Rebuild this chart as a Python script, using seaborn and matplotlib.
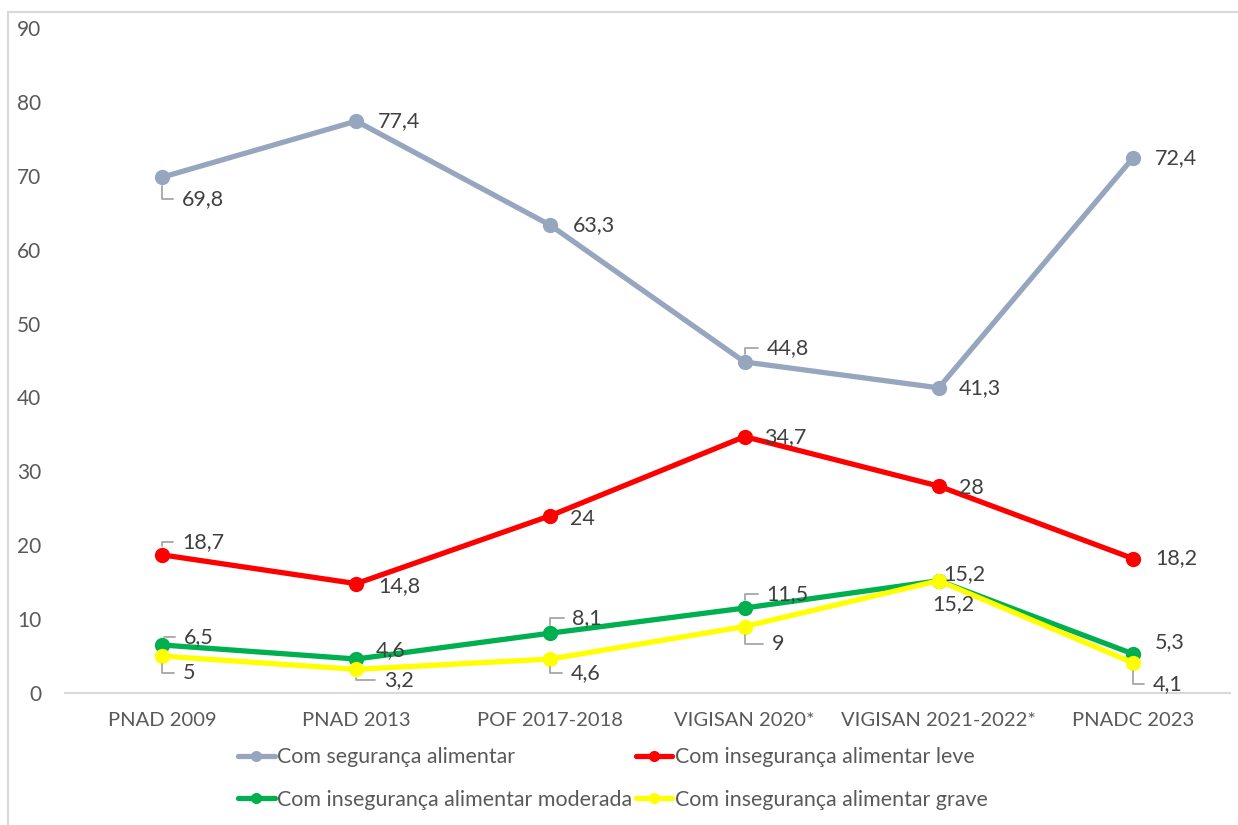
import matplotlib
matplotlib.use("Agg")
import matplotlib.pyplot as plt
from matplotlib.lines import Line2D
from matplotlib.patches import Rectangle
import seaborn as sns
import pandas as pd

# survey / period labels
categories = ['PNAD 2009', 'PNAD 2013', 'POF 2017-2018', 'VIGISAN 2020*',
              'VIGISAN 2021-2022*', 'PNADC 2023']

series_names = ['Com segurança alimentar',
                'Com insegurança alimentar leve',
                'Com insegurança alimentar moderada',
                'Com insegurança alimentar grave']

seguranca = [69.8, 77.4, 63.3, 44.8, 41.3, 72.4]
inseg_leve = [18.7, 14.8, 24.0, 34.7, 28.0, 18.2]
inseg_moderada = [6.5, 4.6, 8.1, 11.5, 15.2, 5.3]
inseg_grave = [5.0, 3.2, 4.6, 9.0, 15.2, 4.1]

colors = ['#97A6BF', '#FF0000', '#00B050', '#FFFF00']

# label offsets in pixels (dx, dy) and whether a leader line is drawn
label_offsets = [
    [(20, -22, True), (22, 0, False), (22, 0, False), (22, 14, True), (20, 0, False), (22, 0, False)],
    [(20, 13, True), (22, -2, False), (20, -3, False), (20, 0, False), (20, -2, False), (22, 0, False)],
    [(22, 8, True), (20, 9, False), (22, 15, True), (22, 14, True), (5, 7, False), (22, 12, False)],
    [(21, -17, True), (28, -11, True), (20, -14, True), (27, -17, True), (-6, -23, False), (20, -21, True)],
]

all_values = [seguranca, inseg_leve, inseg_moderada, inseg_grave]

rows = []
for name, vals in zip(series_names, all_values):
    for i, v in enumerate(vals):
        rows.append({'x': i, 'valor': v, 'serie': name})
df = pd.DataFrame(rows)

sns.set_style('white')
plt.rcParams['font.family'] = ['Lato', 'DejaVu Sans']
text_color = '#595959'

fig = plt.figure(figsize=(12.38, 8.25), dpi=100)
ax = fig.add_axes([65 / 1238, 1 - 693 / 825, (1230 - 65) / 1238, (693 - 28) / 825])

sns.lineplot(data=df, x='x', y='valor', hue='serie', hue_order=series_names,
             palette=colors, marker='o', markersize=11, markeredgewidth=0,
             linewidth=3.8, legend=False, ax=ax)

for vals, offs in zip(all_values, label_offsets):
    for i, (v, (dx, dy, leader)) in enumerate(zip(vals, offs)):
        txt = f'{v:g}'.replace('.', ',')
        if leader:
            ax.annotate(txt, xy=(i, v), xytext=(dx, dy), textcoords='offset pixels',
                        ha='left', va='center', fontsize=15.5, color='#404040',
                        arrowprops=dict(arrowstyle='-', color='#A6A6A6', lw=1.3,
                                        connectionstyle='angle,angleA=0,angleB=90,rad=0',
                                        relpos=(0, 0.5), shrinkA=4, shrinkB=6))
        else:
            ax.annotate(txt, xy=(i, v), xytext=(dx, dy), textcoords='offset pixels',
                        ha='left', va='center', fontsize=15.5, color='#404040')

ax.set_xlim(-0.5, 5.5)
ax.set_ylim(0, 90)
ax.set_yticks(range(0, 91, 10))
ax.set_xticks(range(len(categories)))
ax.set_xticklabels(categories)
ax.set_xlabel('')
ax.set_ylabel('')
ax.tick_params(axis='y', length=0, pad=17, labelsize=15, labelcolor=text_color)
ax.tick_params(axis='x', length=0, pad=14, labelsize=14.5, labelcolor=text_color)
for s in ['top', 'right', 'left']:
    ax.spines[s].set_visible(False)
ax.spines['bottom'].set_color('#D9D9D9')
ax.spines['bottom'].set_linewidth(1.5)
ax.grid(False)

# legend is filled column by column, so order handles to get the reference rows
order = [0, 2, 1, 3]
handles = [Line2D([], [], color=colors[k], lw=3.8, marker='o', markersize=8, markeredgewidth=0)
           for k in order]
labels = [series_names[k] for k in order]
fig.legend(handles, labels, loc='center', bbox_to_anchor=(0.495, 1 - 778.5 / 825),
           ncol=2, frameon=False, fontsize=15.4, labelcolor=text_color,
           handlelength=1.7, handletextpad=0.1, columnspacing=0.2, labelspacing=1.05)

fig.patches.append(Rectangle((8 / 1238, -0.05), 1.2, 1 - 12 / 825 + 0.05,
                             transform=fig.transFigure, fill=False,
                             edgecolor='#D9D9D9', linewidth=1.5))

fig.savefig('out.png', dpi=100)
